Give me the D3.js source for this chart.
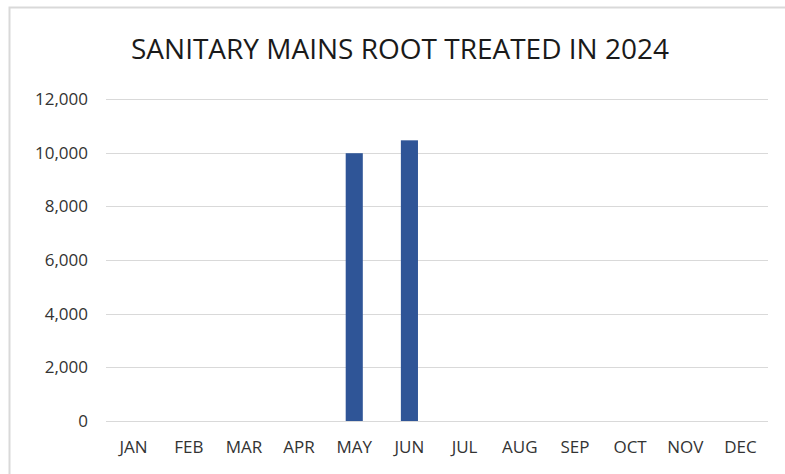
<!DOCTYPE html>
<html>
<head>
<meta charset="utf-8">
<script src="https://cdn.jsdelivr.net/npm/d3@7"></script>
<style>
  html, body { margin: 0; padding: 0; background: #fff; }
  svg { display: block; }
  .lbl { font-family: "Open Sans", sans-serif; }
</style>
</head>
<body>
<svg id="chart" width="785" height="474"></svg>
<script>
// Monthly footage of sanitary mains root treated in 2024
const months = ["JAN","FEB","MAR","APR","MAY","JUN","JUL","AUG","SEP","OCT","NOV","DEC"];
const feetTreated = [0, 0, 0, 0, 9980, 10460, 0, 0, 0, 0, 0, 0];
const yTicks = [0, 2000, 4000, 6000, 8000, 10000, 12000];
const chartTitle = "SANITARY MAINS ROOT TREATED IN 2024";

const svg = d3.select("#chart");
const W = 785, H = 474;
const margin = { left: 106, right: 17, top: 99, bottom: 53 };

// chart area frame
svg.append("rect")
  .attr("x", 9.5).attr("y", 7.5)
  .attr("width", W + 10).attr("height", H + 10)
  .attr("fill", "#fff").attr("stroke", "#d9d9d9").attr("stroke-width", 2);

const x = d3.scaleBand().domain(months)
  .range([margin.left, W - margin.right]).paddingInner(0.69).paddingOuter(0.345);
const y = d3.scaleLinear().domain([0, 12000]).range([H - margin.bottom, margin.top]);

// gridlines
svg.append("g")
  .selectAll("line").data(yTicks).join("line")
  .attr("x1", margin.left).attr("x2", W - margin.right)
  .attr("y1", d => Math.round(y(d)) + 0.5).attr("y2", d => Math.round(y(d)) + 0.5)
  .attr("stroke", "#d9d9d9").attr("stroke-width", 1);

// y axis labels
const yAxis = d3.axisLeft(y).tickValues(yTicks).tickSize(0).tickPadding(0)
  .tickFormat(d3.format(","));
svg.append("g").attr("transform", `translate(${margin.left - 18},0)`)
  .call(yAxis)
  .call(g => g.select(".domain").remove())
  .call(g => g.selectAll("text").attr("class", "lbl")
    .attr("font-size", 17).attr("fill", "#333"));

// bars
svg.append("g").selectAll("rect").data(feetTreated).join("rect")
  .attr("x", (d, i) => x(months[i]))
  .attr("width", x.bandwidth())
  .attr("y", d => y(d))
  .attr("height", d => y(0) - y(d))
  .attr("fill", "#2f5597");

// x axis labels
const xAxis = d3.axisBottom(x).tickSize(0).tickPadding(0);
svg.append("g").attr("transform", `translate(0,${H - margin.bottom + 20})`)
  .call(xAxis)
  .call(g => g.select(".domain").remove())
  .call(g => g.selectAll("text").attr("class", "lbl")
    .attr("font-size", 17).attr("fill", "#333"));

// title
svg.append("text").attr("class", "lbl")
  .attr("x", 400).attr("y", 59)
  .attr("text-anchor", "middle")
  .attr("font-size", 28).attr("fill", "#1a1a1a")
  .text(chartTitle);
</script>
</body>
</html>
